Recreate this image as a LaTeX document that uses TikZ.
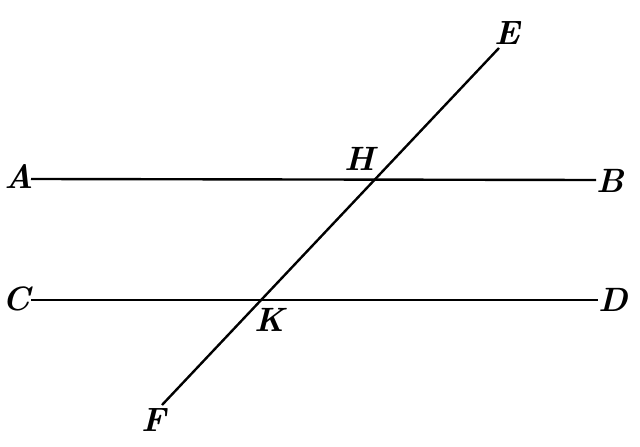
\documentclass[tikz,border=0pt]{standalone}
\begin{document}
\begin{tikzpicture}[x=0.025cm,y=-0.025cm,line width=1.7pt,
                  lbl/.style={font=\fontsize{24}{28}\selectfont\bfseries\itshape}]
                  \useasboundingbox (0,0) rectangle (640,447);
                  \coordinate (A) at (31,179);
                  \coordinate (B) at (596,180);
                  \coordinate (C) at (31,300);
                  \coordinate (D) at (598,300);
                  \coordinate (E) at (499,48);
                  \coordinate (F) at (162,405);
                  \draw (A) -- (B);
                  \draw (C) -- (D);
                  \draw (E) -- (F);
                  \node[lbl] (a) at (19,177) {A};
                  \node[lbl] (b) at (610,181) {B};
                  \node[lbl] (c) at (16,299) {C};
                  \node[lbl] (d) at (613,300) {D};
                  \node[lbl] (e) at (507,33) {E};
                  \node[lbl] (f) at (154,420) {F};
                  \node[lbl] (h) at (360,159) {H};
                  \node[lbl] (k) at (270,320) {K};
              \end{tikzpicture}
\end{document}
